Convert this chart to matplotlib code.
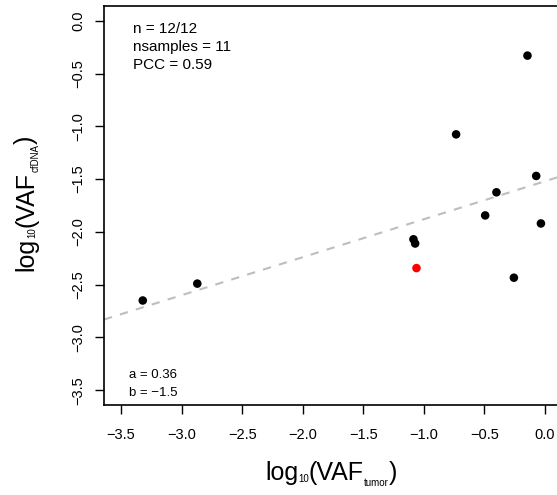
import matplotlib
matplotlib.use('Agg')
import matplotlib.pyplot as plt

plt.rcParams['font.family'] = ['Liberation Sans', 'DejaVu Sans']

# data (log10 VAF tumor vs cfDNA)
vaf_tumor = [-3.32, -2.87, -0.145, -0.734, -0.073, -0.401, -0.494, -0.034, -1.086, -1.072, -1.061, -0.257]
vaf_cfdna = [-2.65, -2.49, -0.33, -1.076, -1.47, -1.625, -1.844, -1.92, -2.07, -2.11, -2.343, -2.434]
point_colors = ['black'] * 10 + ['red', 'black']

slope = 0.36
intercept = -1.52

ticks = [-3.5, -3.0, -2.5, -2.0, -1.5, -1.0, -0.5, 0.0]
tick_labels = ['\u22123.5', '\u22123.0', '\u22122.5', '\u22122.0', '\u22121.5', '\u22121.0', '\u22120.5', '0.0']

stats_lines = ['n = 12/12', 'nsamples = 11', 'PCC = 0.59']
fit_lines = ['a = 0.36', 'b = \u22121.5']

W, H = 557, 495
fig = plt.figure(figsize=(W / 100, H / 100), dpi=100)
ax = fig.add_axes([104 / W, 90 / H, 458 / W, 399 / H])

ax.set_xlim(-3.64, 0.14)
ax.set_ylim(-3.64, 0.14)

# regression line
ax.axline((0, intercept), slope=slope, color='#BEBEBE', lw=1.5, dashes=(4, 4), zorder=1)

ax.scatter(vaf_tumor, vaf_cfdna, s=38, c=point_colors, linewidths=0, zorder=3)

for sp in ax.spines.values():
    sp.set_linewidth(1.2)

ax.set_xticks(ticks)
ax.set_xticklabels(tick_labels)
ax.set_yticks(ticks)
ax.set_yticklabels(tick_labels)
ax.tick_params(length=6.5, width=1.0, labelsize=10.5)
ax.tick_params(axis='x', pad=10)
ax.tick_params(axis='y', labelrotation=90, pad=7)
for lab in ax.get_yticklabels():
    lab.set_va('center')

# stats text
for i, s in enumerate(stats_lines):
    fig.text(133 / W, 1 - (32.7 + 18.3 * i) / H, s, fontsize=11, ha='left', va='baseline')
for i, s in enumerate(fit_lines):
    fig.text(128.7 / W, 1 - (378.3 + 17.4 * i) / H, s, fontsize=9.5, ha='left', va='baseline')


def place_label(pieces, center, base, rotated):
    # pieces: (text, fontsize, drop in px below baseline); center/base in pixels
    r = fig.canvas.get_renderer()
    widths = []
    for s, size, drop in pieces:
        t = fig.text(0, 0, s, fontsize=size)
        widths.append(t.get_window_extent(r).width)
        t.remove()
    pos = center - sum(widths) / 2
    for (s, size, drop), w in zip(pieces, widths):
        if not rotated:
            fig.text(pos / W, (H - base - drop) / H, s, fontsize=size,
                     ha='left', va='baseline')
        else:
            fig.text((base + drop) / W, pos / H, s, fontsize=size, ha='left', va='baseline',
                     rotation=90, rotation_mode='anchor')
        pos += w


place_label([('log', 18, 0), ('10', 7, 2.5), ('(VAF', 18, 0), ('tumor', 7, 6), (')', 18, 0)],
            331, 480, False)
place_label([('log', 18, 0), ('10', 7, 2.5), ('(VAF', 18, 0), ('cfDNA', 7, 5.5), (')', 18, 0)],
            H - 203.5, 33, True)

fig.savefig('out.png', dpi=100)
